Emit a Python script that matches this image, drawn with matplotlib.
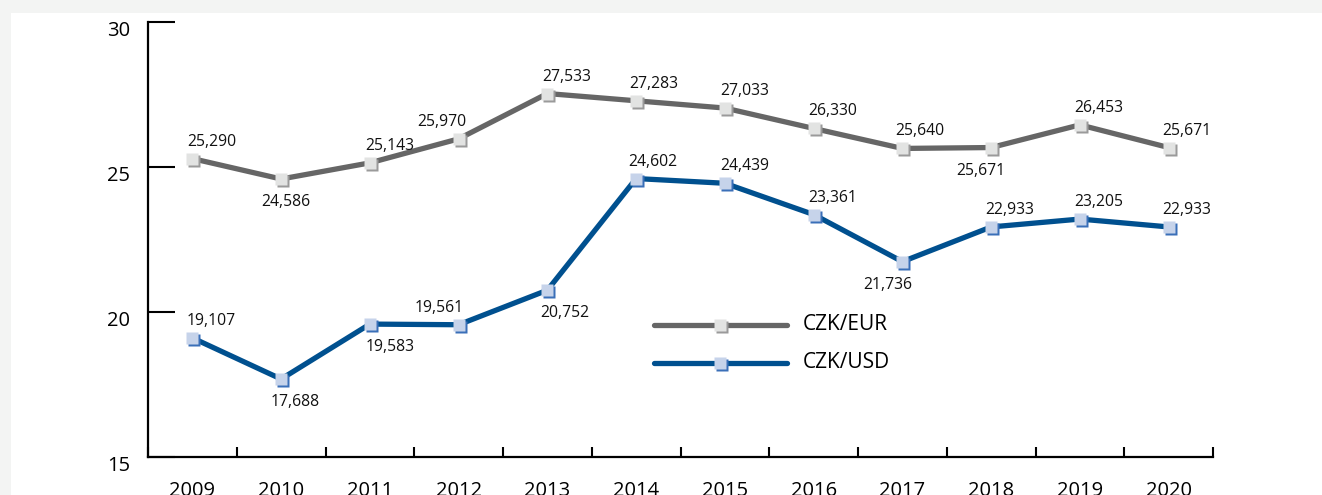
import matplotlib
matplotlib.use("Agg")
import matplotlib.pyplot as plt
from matplotlib.transforms import ScaledTranslation, blended_transform_factory
from matplotlib.patches import Rectangle

plt.rcParams['font.family'] = ['Open Sans', 'DejaVu Sans']

years = ['2009', '2010', '2011', '2012', '2013', '2014', '2015', '2016', '2017', '2018', '2019', '2020']
eur = [25.290, 24.586, 25.143, 25.970, 27.533, 27.283, 27.033, 26.330, 25.640, 25.671, 26.453, 25.671]
usd = [19.107, 17.688, 19.583, 19.561, 20.752, 24.602, 24.439, 23.361, 21.736, 22.933, 23.205, 22.933]
yticks = [15, 20, 25, 30]
series_names = ['CZK/EUR', 'CZK/USD']

# label layout (above/below the point, horizontal shift in pixels)
eur_pos = ['above', 'below', 'above', 'above', 'above', 'above', 'above', 'above', 'above', 'below', 'above', 'above']
usd_pos = ['above', 'below', 'below', 'above', 'below', 'above', 'above', 'above', 'below', 'above', 'above', 'above']
eur_dx = [19, 5, 20, -17, 19, 18, 20, 19, 17, -10, 19, 18]
usd_dx = [19, 14, 20, -19, 17, 17, 20, 19, -15, 19, 19, 18]

W, H = 1322, 495
fig = plt.figure(figsize=(W / 100, H / 100), dpi=100)
fig.patch.set_facecolor('#f3f4f3')
panel = Rectangle((11 / W, 0), 1 - 11 / W, 1 - 13 / H, transform=fig.transFigure,
                  facecolor='white', edgecolor='none', zorder=-10)
fig.add_artist(panel)

ax = fig.add_axes([148 / W, 1 - 457 / H, (1213 - 148) / W, (457 - 22) / H])
ax.set_zorder(1)
ax.set_facecolor('none')
ax.set_xlim(0, len(years))
ax.set_ylim(15, 30)

for s in ['top', 'right']:
    ax.spines[s].set_visible(False)
for s in ['left', 'bottom']:
    ax.spines[s].set_linewidth(1.6)
    ax.spines[s].set_color('black')

# y ticks
ax.set_yticks(yticks)
ax.set_yticklabels([])
ax.tick_params(axis='y', direction='in', length=19.5, width=1.5, color='black')
ylab_tr = blended_transform_factory(ax.transAxes, ax.transData) + ScaledTranslation(0, -0.09, fig.dpi_scale_trans)
for v in yticks:
    ax.text(-0.017, v, str(v), transform=ylab_tr, ha='right', va='center', fontsize=14.5, color='black')

# x ticks at boundaries, labels at centers
ax.set_xticks(range(len(years) + 1))
ax.set_xticklabels([])
ax.tick_params(axis='x', which='major', direction='in', length=7.5, width=1.5, color='black')
ax.set_xticks([i + 0.5 for i in range(len(years))], minor=True)
ax.set_xticklabels(years, minor=True, fontsize=14.5)
ax.tick_params(axis='x', which='minor', length=0, pad=17)

xs = [i + 0.5 for i in range(len(years))]

shadow_off = ScaledTranslation(2 / 100, -2 / 100, fig.dpi_scale_trans)

def draw_series(vals, color, face, shade, positions, dxs):
    ax.plot(xs, vals, color=color, lw=3.8, solid_joinstyle='miter', zorder=3, clip_on=False)
    ax.plot(xs, vals, ls='none', marker='s', ms=9, mfc=shade, mec='none',
            transform=ax.transData + shadow_off, zorder=4, clip_on=False)
    ax.plot(xs, vals, ls='none', marker='s', ms=9, mfc=face, mec='none', zorder=5, clip_on=False)
    for x, v, p, dx in zip(xs, vals, positions, dxs):
        txt = f"{v:.3f}".replace('.', ',')
        if p == 'above':
            tr = ax.transData + ScaledTranslation(dx / 100, 9 / 100, fig.dpi_scale_trans)
            ax.text(x, v, txt, transform=tr, ha='center', va='bottom', fontsize=11.3, color='#111111', zorder=6)
        else:
            tr = ax.transData + ScaledTranslation(dx / 100, -15 / 100, fig.dpi_scale_trans)
            ax.text(x, v, txt, transform=tr, ha='center', va='top', fontsize=11.3, color='#111111', zorder=6)

eur_style = ('#666666', '#e2e3e2', '#9a9a9a')
usd_style = ('#00508f', '#c6d3ea', '#3a6fb8')
draw_series(eur, *eur_style, eur_pos, eur_dx)
draw_series(usd, *usd_style, usd_pos, usd_dx)

# legend drawn manually
def ax_x(px):
    return (px - 148) / (1213 - 148)

def ax_y(py):
    return (457 - py) / (457 - 22)

for name, style, py in [(series_names[0], eur_style, 325), (series_names[1], usd_style, 363)]:
    color, face, shade = style
    ax.plot([ax_x(654), ax_x(787)], [ax_y(py), ax_y(py)], transform=ax.transAxes, color=color,
            lw=3.8, solid_capstyle='round', zorder=3, clip_on=False)
    ax.plot([ax_x(720)], [ax_y(py)], transform=ax.transAxes + shadow_off, ls='none', marker='s', ms=9,
            mfc=shade, mec='none', zorder=4, clip_on=False)
    ax.plot([ax_x(720)], [ax_y(py)], transform=ax.transAxes, ls='none', marker='s', ms=9,
            mfc=face, mec='none', zorder=5, clip_on=False)
    ax.text(ax_x(803), ax_y(py), name, transform=ax.transAxes, ha='left', va='center',
            fontsize=15, color='black')

fig.savefig('out.png', dpi=100, facecolor=fig.get_facecolor())
